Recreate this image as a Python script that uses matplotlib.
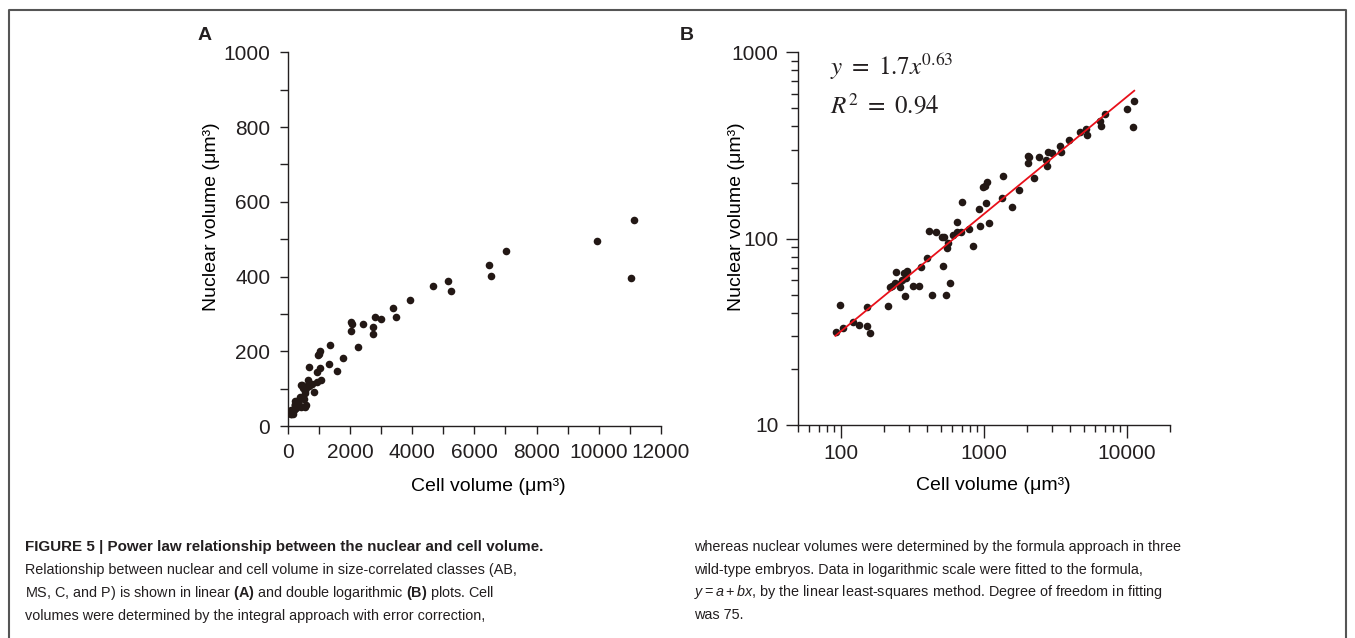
from matplotlib import pyplot as pl
from matplotlib import font_manager as fm
from matplotlib.ticker import LogLocator, NullFormatter, FixedFormatter
from matplotlib.lines import Line2D

# values (cell volume, nuclear volume in um^3)
cell_volume = [
    92, 98, 104, 121, 134, 152, 153, 159, 213,
    220, 228, 239, 245, 256, 261, 266, 276, 288, 285, 279,
    319, 350, 361, 402, 415, 431, 460, 507, 529, 521, 543, 555, 564, 576,
    611, 645, 645, 692, 699, 791, 835, 930, 935, 981, 1019, 1030, 1052, 1081,
    1333, 1370, 1575, 1762, 2027, 2083, 2039, 2244, 2433, 2739, 2754, 2814,
    2985, 3396, 3470, 3946, 4664, 5137, 5250, 6477, 6541, 7017, 9950, 11020,
    11140,
]
nuclear_volume = [
    31.7, 44, 33, 35.7, 34.4, 43.2, 34.1, 31.3, 43.5,
    55.2, 55.7, 58.1, 65.9, 57.2, 55.2, 60.0, 65.2, 67.3, 61.2, 49.2,
    55.7, 55.7, 70.5, 78.7, 110, 49.6, 109, 102, 102, 71.1, 49.6, 89.1, 94.4, 57.5,
    105, 109, 123, 108, 157, 113, 91.6, 144, 117, 189, 192, 155, 201, 122,
    166, 217, 148, 182, 279, 273, 255, 212, 273, 264, 245, 293,
    287, 316, 292, 337, 375, 388, 362, 430, 401, 469, 494, 396,
    550,
]

# power-law fit line end points (log-log straight line)
fit_x = [91.7, 11250]
fit_y = [30.1, 622]

lin_xticks = [0, 2000, 4000, 6000, 8000, 10000, 12000]
lin_yticks = [0, 200, 400, 600, 800, 1000]
log_xticks = [100, 1000, 10000]
log_yticks = [10, 100, 1000]

caption_left = [
    r'Relationship between nuclear and cell volume in size-correlated classes (AB,',
    r'MS, C, and P) is shown in linear $\mathbf{(A)}$ and double logarithmic $\mathbf{(B)}$ plots. Cell',
    r'volumes were determined by the integral approach with error correction,',
]
caption_right = [
    r'whereas nuclear volumes were determined by the formula approach in three',
    r'wild-type embryos. Data in logarithmic scale were fitted to the formula,',
    r'$y = a + bx$, by the linear least-squares method. Degree of freedom in fitting',
    r'was 75.',
]
caption_title = 'FIGURE 5 | Power law relationship between the nuclear and cell volume.'

ink = '#231f20'
dots = '#231815'

names = {f.name for f in fm.fontManager.ttflist}
if 'Liberation Sans Narrow' in names:
    capfont = 'Liberation Sans Narrow'
    capsize = 11.5
    titlesize = 11.5
else:
    capfont = 'Liberation Sans'
    capsize = 10.4
    titlesize = 10.9

pl.rcParams['font.family'] = ['Liberation Sans', 'DejaVu Sans']
pl.rcParams['mathtext.fontset'] = 'custom'
pl.rcParams['mathtext.rm'] = capfont
pl.rcParams['mathtext.it'] = capfont + ':italic'
pl.rcParams['mathtext.bf'] = capfont + ':bold'
pl.rcParams['text.color'] = ink
pl.rcParams['xtick.color'] = ink
pl.rcParams['ytick.color'] = ink
pl.rcParams['axes.edgecolor'] = ink

W, H = 1355, 638
fig = pl.figure(figsize=(W/100, H/100), dpi=100)

ax1 = fig.add_axes([287.7/W, 1-426/H, 373.3/W, 373.7/H])
ax2 = fig.add_axes([797.7/W, 1-425/H, 372.3/W, 372.7/H])

# panel A: linear
ax1.scatter(cell_volume, nuclear_volume, s=30, color=dots, linewidths=0, zorder=3)
ax1.set_xlim(0, 12000)
ax1.set_ylim(0, 1000)
ax1.set_xticks(lin_xticks)
ax1.set_yticks(lin_yticks)
ax1.set_xticks(range(0, 12001, 1000), minor=True)
ax1.set_yticks(range(0, 1001, 100), minor=True)
ax1.tick_params(which='both', direction='out', length=5.5, width=1, labelsize=15, pad=7)

# panel B: log-log
ax2.scatter(cell_volume, nuclear_volume, s=30, color=dots, linewidths=0, zorder=3)
ax2.plot(fit_x, fit_y, color='#e8101a', linewidth=1.3, zorder=4)
ax2.set_xscale('log')
ax2.set_yscale('log')
ax2.set_xlim(50, 20000)
ax2.set_ylim(10, 1000)
ax2.set_xticks(log_xticks)
ax2.set_yticks(log_yticks)
ax2.xaxis.set_major_formatter(FixedFormatter([str(v) for v in log_xticks]))
ax2.yaxis.set_major_formatter(FixedFormatter([str(v) for v in log_yticks]))
ax2.xaxis.set_minor_locator(LogLocator(base=10, subs=range(2, 10)))
ax2.yaxis.set_minor_locator(LogLocator(base=10, subs=range(2, 10)))
ax2.xaxis.set_minor_formatter(NullFormatter())
ax2.yaxis.set_minor_formatter(NullFormatter())
ax2.tick_params(which='major', direction='out', length=9, width=1, labelsize=15, pad=5)
ax2.tick_params(which='minor', direction='out', length=5, width=1)

ax2.text(
        830/W, 1-66.7/H,
        r'$y\ =\ 1.7x^{0.63}$',
        transform=fig.transFigure,
        fontsize=18,
        math_fontfamily='stix',
        va='center'
        )
ax2.text(
        830/W, 1-105/H,
        r'$R^2\ =\ 0.94$',
        transform=fig.transFigure,
        fontsize=18,
        math_fontfamily='stix',
        va='center'
        )

for ax in (ax1, ax2):
    ax.spines['top'].set_visible(False)
    ax.spines['right'].set_visible(False)
    ax.spines['left'].set_linewidth(1)
    ax.spines['bottom'].set_linewidth(1)
    ax.set_xlabel('Cell volume (\u03bcm\u00b3)', fontsize=14)
    ax.set_ylabel('Nuclear volume (\u03bcm\u00b3)', fontsize=14)

ax1.xaxis.set_label_coords(0.538, -0.139)
ax2.xaxis.set_label_coords(0.525, -0.139)
ax1.yaxis.set_label_coords(-0.181, 0.56)
ax2.yaxis.set_label_coords(-0.1415, 0.56)

fig.text(205/W, 1-35.5/H, 'A', fontsize=14, fontweight='bold', ha='center', va='center')
fig.text(687/W, 1-35.5/H, 'B', fontsize=14, fontweight='bold', ha='center', va='center')

# caption
fig.text(25/W, 1-547/H, caption_title, family=capfont, fontweight='bold',
         fontsize=titlesize, va='center')
for i, line in enumerate(caption_left):
    fig.text(25/W, 1-(570 + 23*i)/H, line, family=capfont, fontsize=capsize, va='center')
for i, line in enumerate(caption_right):
    fig.text(694/W, 1-(547 + 22.7*i)/H, line, family=capfont, fontsize=capsize, va='center')

# frame around the figure
frame = Line2D(
        [8.5/W, 8.5/W, 1346/W, 1346/W],
        [0, 1-10/H, 1-10/H, 0],
        transform=fig.transFigure,
        color='#555555',
        linewidth=1.5
        )
fig.add_artist(frame)

fig.savefig('out.png', dpi=100)
